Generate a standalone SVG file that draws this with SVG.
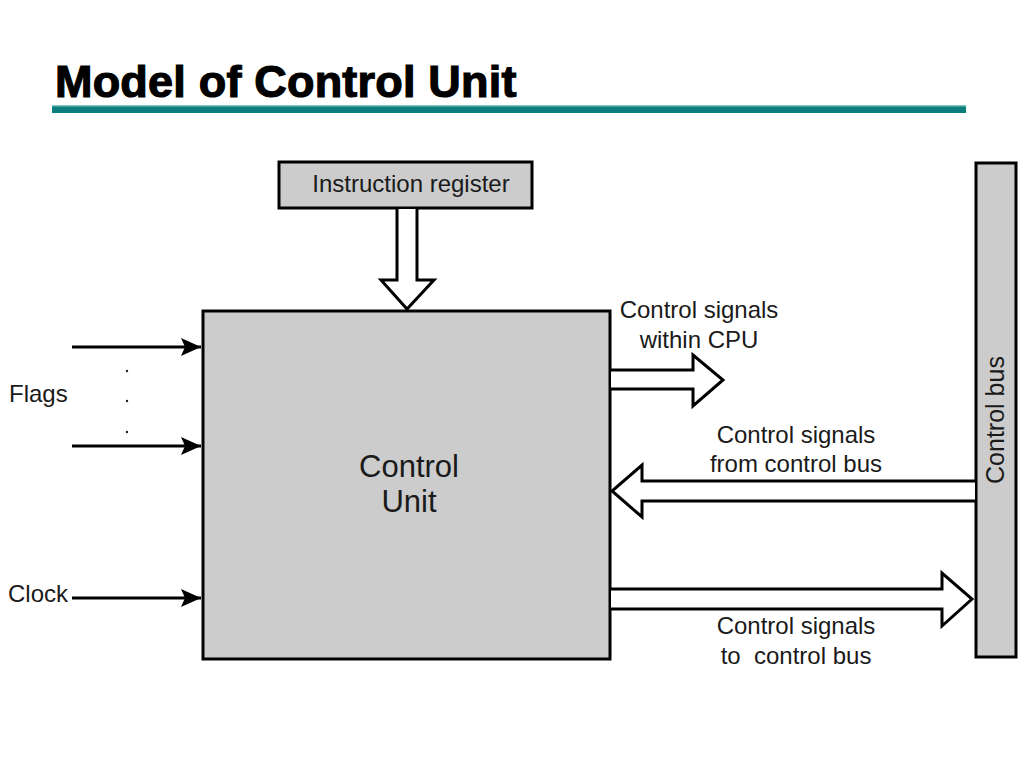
<svg xmlns="http://www.w3.org/2000/svg" width="1024" height="768" viewBox="0 0 1024 768">
<style>
.t{font-family:"Liberation Sans",Arial,sans-serif;fill:#1a1a1a}
.box{fill:#cccccc;stroke:#000;stroke-width:3}
.hollow{fill:#fff;stroke:#000;stroke-width:3;stroke-linejoin:miter}
.line{stroke:#000;stroke-width:3;fill:none}
</style>
<defs>
<marker id="ah" viewBox="0 0 20 18" refX="20" refY="9" markerWidth="20" markerHeight="18" markerUnits="userSpaceOnUse" orient="auto">
<path d="M0,0 L20,9 L0,18 L4,9 z" fill="#000"/>
</marker>
</defs>
<rect width="1024" height="768" fill="#fff"/>
<text x="55" y="97" font-family="Liberation Sans,Arial,sans-serif" font-size="45" font-weight="bold" fill="#000" stroke="#000" stroke-width="1.2" letter-spacing="0.2">Model of Control Unit</text>
<rect x="52" y="105" width="914" height="8" fill="#0a7f7d"/>
<rect x="52" y="105" width="914" height="1.5" fill="#7fc4c2"/>

<g id="instruction-register">
<rect class="box" x="279" y="162" width="253" height="46"/>
<text class="t" x="411" y="192" font-size="24" text-anchor="middle">Instruction register</text>
</g>
<g id="control-unit">
<rect class="box" x="203" y="311" width="407" height="348"/>
<text class="t" x="409" y="477" font-size="31" text-anchor="middle">Control</text>
<text class="t" x="409" y="512" font-size="31" text-anchor="middle">Unit</text>
</g>
<g id="control-bus">
<rect class="box" x="976" y="163" width="40" height="494"/>
<text class="t" x="1004" y="420" font-size="25" text-anchor="middle" transform="rotate(-90 1004 420)">Control bus</text>
</g>
<g id="labels">
<text class="t" x="9" y="402" font-size="24">Flags</text>
<text class="t" x="8" y="602" font-size="24">Clock</text>
<text class="t" x="699" y="318" font-size="24" text-anchor="middle">Control signals</text>
<text class="t" x="699" y="348" font-size="24" text-anchor="middle">within CPU</text>
<text class="t" x="796" y="443" font-size="24" text-anchor="middle">Control signals</text>
<text class="t" x="796" y="472" font-size="24" text-anchor="middle">from control bus</text>
<text class="t" x="796" y="634" font-size="24" text-anchor="middle">Control signals</text>
<text class="t" x="796" y="664" font-size="24" text-anchor="middle" xml:space="preserve">to  control bus</text>
<circle cx="127" cy="371" r="1.2" fill="#222"/>
<circle cx="127" cy="401" r="1.2" fill="#222"/>
<circle cx="127" cy="432" r="1.2" fill="#222"/>
</g>
<g id="connectors">
<path class="line" d="M72,347 H201" marker-end="url(#ah)"/>
<path class="line" d="M72,446 H201" marker-end="url(#ah)"/>
<path class="line" d="M72,598 H201" marker-end="url(#ah)"/>
<path class="hollow" d="M397,209 V280 H381 L407,309 L434,280 H417 V209"/>
<path class="hollow" d="M611,370 H693 V355 L723,380 L693,406 V389 H611"/>
<path class="hollow" d="M975,481 H642 V465 L612,491 L642,517 V501 H975"/>
<path class="hollow" d="M611,589 H942 V573 L972,599 L942,626 V609 H611"/>
</g>
</svg>
